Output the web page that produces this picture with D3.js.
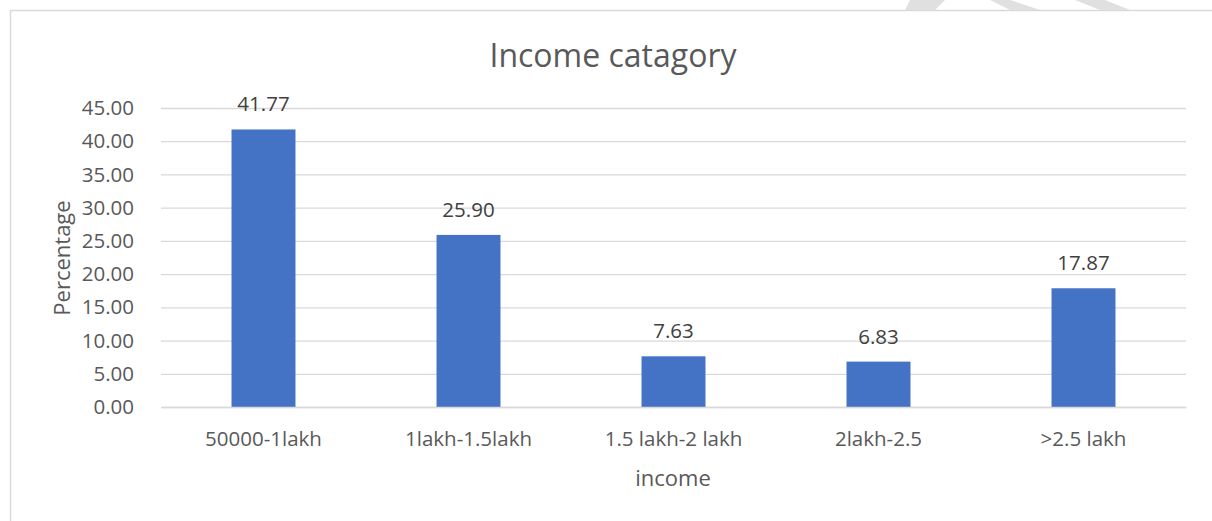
<!DOCTYPE html>
<html>
<head>
<meta charset="utf-8">
<script src="https://cdn.jsdelivr.net/npm/d3@7"></script>
<style>
	body { margin: 0; background: #fff; }
	text { font-family: "Open Sans", sans-serif; }
</style>
</head>
<body>
<svg id="chart" width="1212" height="521"></svg>
<script>
// chart data
var categories	= ["50000-1lakh", "1lakh-1.5lakh", "1.5 lakh-2 lakh", "2lakh-2.5", ">2.5 lakh"];
var percentages	= [41.77, 25.90, 7.63, 6.83, 17.87];
var yTickValues	= [0, 5, 10, 15, 20, 25, 30, 35, 40, 45];

var svg = d3.select("#chart");

var margin = { left: 161, right: 26, top: 108, bottom: 114 };
var width = 1212 - margin.left - margin.right;
var height = 521 - margin.top - margin.bottom;

// chart frame (left/top edges visible in the reference)
svg.append("path")
	.attr("d", "M10.5,521 L10.5,10.5 L1212,10.5")
	.attr("fill", "none")
	.attr("stroke", "#d9d9d9")
	.attr("stroke-width", 1.5);

// faint watermark strokes above the frame
var wm = [[910, 0, 945, 0, 935, 10, 905, 10], [990, 0, 1010, 0, 1040, 10, 1010, 10], [1075, 0, 1105, 0, 1130, 10, 1100, 10]];
svg.selectAll(".wm")
	.data(wm)
	.enter()
	.append("polygon")
		.attr("class", "wm")
		.attr("points", function(p) { return p[0] + "," + p[1] + " " + p[2] + "," + p[3] + " " + p[4] + "," + p[5] + " " + p[6] + "," + p[7]; })
		.attr("fill", "#e0e0e0");

var g = svg.append("g")
	.attr("transform", "translate(" + margin.left + "," + margin.top + ")");

var xScale = d3.scaleBand()
	.domain(categories)
	.range([0, width])
	.paddingInner(0.688)
	.paddingOuter(0.344);

var yScale = d3.scaleLinear()
	.domain([0, 45])
	.range([height, 0]);

// gridlines
g.append("g")
	.attr("class", "grid")
	.call(d3.axisLeft(yScale).tickValues(yTickValues).tickSize(-width).tickFormat(""))
	.call(function(s) {
		s.select(".domain").remove();
		s.selectAll("line").attr("stroke", "#d9d9d9").attr("stroke-width", 1.3);
	});

// y axis labels
g.append("g")
	.attr("class", "y axis")
	.attr("transform", "translate(-24,0)")
	.call(d3.axisLeft(yScale).tickValues(yTickValues).tickSize(0).tickFormat(d3.format(".2f")))
	.call(function(s) {
		s.select(".domain").remove();
		s.selectAll("text")
			.attr("fill", "#595959")
			.style("font-size", "20.5px")
			.style("font-family", "'Open Sans', sans-serif");
	});

// bars
g.selectAll(".bar")
	.data(percentages)
	.enter()
	.append("rect")
		.attr("class", "bar")
		.attr("x", function(d, i) { return xScale(categories[i]); })
		.attr("y", function(d) { return yScale(d); })
		.attr("width", xScale.bandwidth())
		.attr("height", function(d) { return height - yScale(d); })
		.attr("fill", "#4472c4");

// value labels
g.selectAll(".value")
	.data(percentages)
	.enter()
	.append("text")
		.attr("class", "value")
		.attr("x", function(d, i) { return xScale(categories[i]) + xScale.bandwidth() / 2; })
		.attr("y", function(d) { return yScale(d) - 18; })
		.attr("text-anchor", "middle")
		.attr("fill", "#404040")
		.style("font-size", "20.5px")
		.text(function(d) { return d3.format(".2f")(d); });

// x axis line + labels
g.append("g")
	.attr("class", "x axis")
	.attr("transform", "translate(0," + height + ")")
	.call(d3.axisBottom(xScale).tickSize(0).tickPadding(24))
	.call(function(s) {
		s.select(".domain").attr("stroke", "#d9d9d9").attr("stroke-width", 1.5);
		s.selectAll("text")
			.attr("fill", "#595959")
			.style("font-size", "20.5px")
			.style("font-family", "'Open Sans', sans-serif");
	});

// title
svg.append("text")
	.attr("x", 613)
	.attr("y", 67)
	.attr("text-anchor", "middle")
	.attr("fill", "#595959")
	.style("font-size", "32px")
	.text("Income catagory");

// axis titles
svg.append("text")
	.attr("transform", "translate(70,258) rotate(-90)")
	.attr("text-anchor", "middle")
	.attr("fill", "#595959")
	.style("font-size", "22px")
	.text("Percentage");

svg.append("text")
	.attr("x", 673)
	.attr("y", 486)
	.attr("text-anchor", "middle")
	.attr("fill", "#595959")
	.style("font-size", "22px")
	.text("income");
</script>
</body>
</html>
